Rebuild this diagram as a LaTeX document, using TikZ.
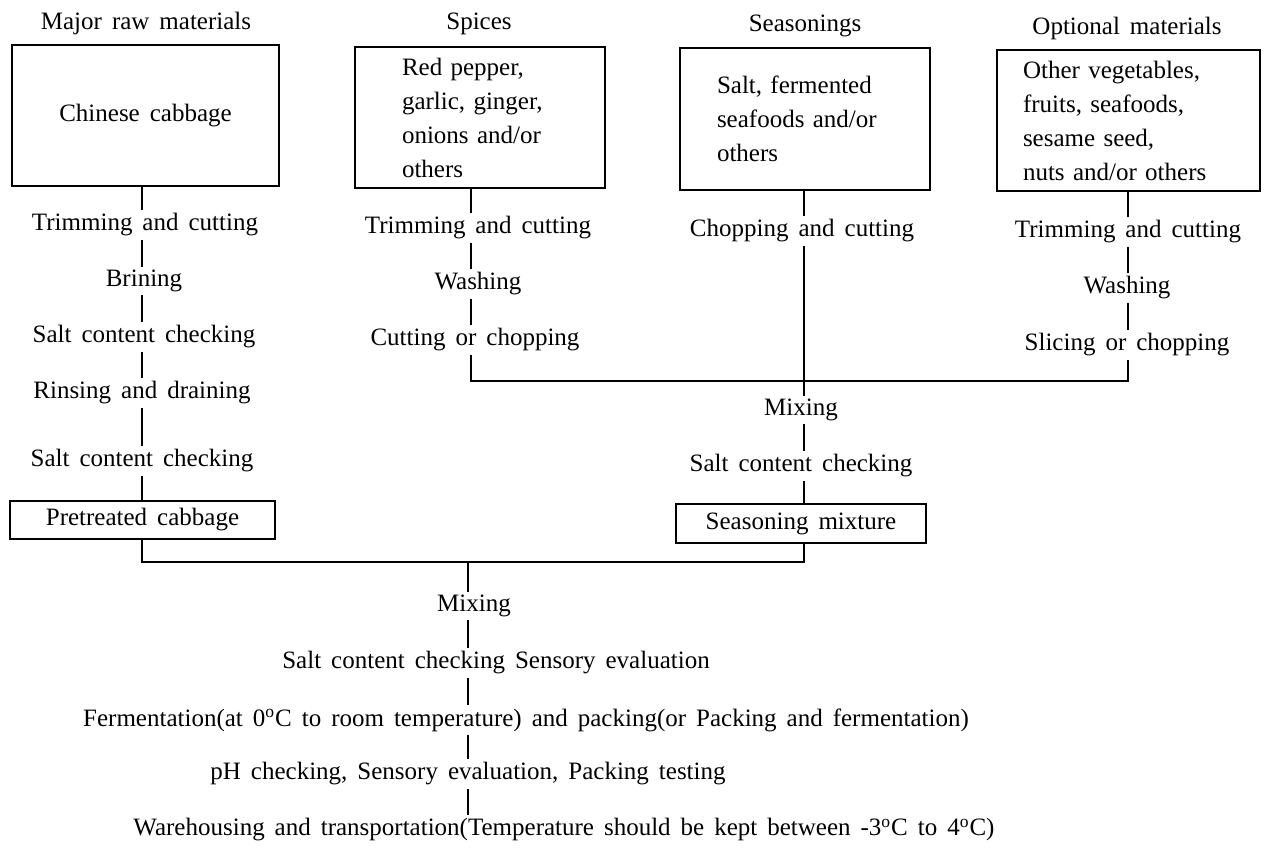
\documentclass[tikz,border=0pt]{standalone}
\usepackage{fontspec}
\setmainfont{Liberation Serif}[WordSpace=1.6]
\newcommand{\lblfont}{\fontsize{12.5}{17}\selectfont}
\begin{document}
\begin{tikzpicture}[x=0.5pt,y=-0.5pt,
  lbl/.style={inner sep=1.5pt, font=\lblfont},
  box/.style={draw, line width=0.6pt, inner ysep=0pt, font=\lblfont},
  conn/.style={line width=0.6pt}]
\path[fill=white] (0,0) rectangle (1265,852);
\useasboundingbox (0,0) rectangle (1265,852);
% column x coordinates
\coordinate (lx) at (142,0);
\coordinate (px) at (471,0);
\coordinate (sx) at (804,0);
\coordinate (ox) at (1128,0);
\coordinate (bx) at (468,0);
% titles
\node[lbl] (t1) at (146,23) {Major raw materials};
\node[lbl] (t2) at (479,24) {Spices};
\node[lbl] (t3) at (805,26) {Seasonings};
\node[lbl] (t4) at (1127,28) {Optional materials};
% boxes
\node[box, minimum width=133.5pt, minimum height=70.5pt, align=center] (b1) at (145.5,115.5) {Chinese cabbage};
\node[box, minimum height=70.5pt, inner xsep=23.5pt, text width=78pt, align=left] (b2) at (480,117.5) {Red pepper,\\garlic, ginger,\\onions and/or\\others};
\node[box, minimum height=71pt, inner xsep=18.5pt, text width=88pt, align=left] (b3) at (805,119) {Salt, fermented\\seafoods and/or\\others};
\node[box, minimum height=70.5pt, inner xsep=13pt, text width=105.5pt, align=left] (b4) at (1128.5,120.5) {Other vegetables,\\fruits, seafoods,\\sesame seed,\\nuts and/or others};
% left column
\node[lbl] (trim1) at (145,225) {Trimming and cutting};
\node[lbl] (brine) at (144,281) {Brining};
\node[lbl] (salt1) at (144,337) {Salt content checking};
\node[lbl] (rinse) at (142,393) {Rinsing and draining};
\node[lbl] (salt2) at (142,461) {Salt content checking};
\node[box, minimum width=132.5pt, minimum height=19pt, align=center] (pre) at (142.5,520) {Pretreated cabbage};
% spices column
\node[lbl] (trim2) at (478,228) {Trimming and cutting};
\node[lbl] (wash1) at (478,284) {Washing};
\node[lbl] (cut) at (475,340) {Cutting or chopping};
% seasonings column
\node[lbl] (chop) at (802,231) {Chopping and cutting};
\node[lbl] (mix1) at (801,410) {Mixing};
\node[lbl] (salt3) at (801,466) {Salt content checking};
\node[box, minimum width=125pt, minimum height=19.5pt, align=center] (smix) at (801,523.5) {Seasoning mixture};
% optional column
\node[lbl] (trim3) at (1128,232) {Trimming and cutting};
\node[lbl] (wash2) at (1127,288) {Washing};
\node[lbl] (slice) at (1127,345) {Slicing or chopping};
% bottom
\node[lbl] (mix2) at (474,606) {Mixing};
\node[lbl] (sens) at (496,663) {Salt content checking Sensory evaluation};
\node[lbl] (ferm) at (526,720) {Fermentation(at 0\textsuperscript{o}C to room temperature) and packing(or Packing and fermentation)};
\node[lbl] (ph) at (468,774) {pH checking, Sensory evaluation, Packing testing};
\node[lbl] (ware) at (564,830) {Warehousing and transportation(Temperature should be kept between -3\textsuperscript{o}C to 4\textsuperscript{o}C)};
% junctions
\coordinate (j1) at (804,381);
\coordinate (j2) at (468,562);
% connectors left
\draw[conn] (b1.south -| lx) -- (trim1.north -| lx);
\draw[conn] (trim1.south -| lx) -- (brine.north -| lx);
\draw[conn] (brine.south -| lx) -- (salt1.north -| lx);
\draw[conn] (salt1.south -| lx) -- (rinse.north -| lx);
\draw[conn] (rinse.south -| lx) -- (salt2.north -| lx);
\draw[conn] (salt2.south -| lx) -- (pre.north -| lx);
% spices
\draw[conn] (b2.south -| px) -- (trim2.north -| px);
\draw[conn] (trim2.south -| px) -- (wash1.north -| px);
\draw[conn] (wash1.south -| px) -- (cut.north -| px);
% seasonings
\draw[conn] (b3.south -| sx) -- (chop.north -| sx);
\draw[conn] (chop.south -| sx) -- (mix1.north -| sx);
\draw[conn] (mix1.south -| sx) -- (salt3.north -| sx);
\draw[conn] (salt3.south -| sx) -- (smix.north -| sx);
% optional
\draw[conn] (b4.south -| ox) -- (trim3.north -| ox);
\draw[conn] (trim3.south -| ox) -- (wash2.north -| ox);
\draw[conn] (wash2.south -| ox) -- (slice.north -| ox);
% merge 1
\draw[conn] (cut.south -| px) |- (j1) -| (slice.south -| ox);
% merge 2
\draw[conn] (pre.south -| lx) |- (j2) -| (smix.south -| sx);
\draw[conn] (j2) -- (mix2.north -| bx);
% bottom chain
\draw[conn] (mix2.south -| bx) -- (sens.north -| bx);
\draw[conn] (sens.south -| bx) -- (ferm.north -| bx);
\draw[conn] (ferm.south -| bx) -- (ph.north -| bx);
\draw[conn] (ph.south -| bx) -- (ware.north -| bx);
\end{tikzpicture}
\end{document}
